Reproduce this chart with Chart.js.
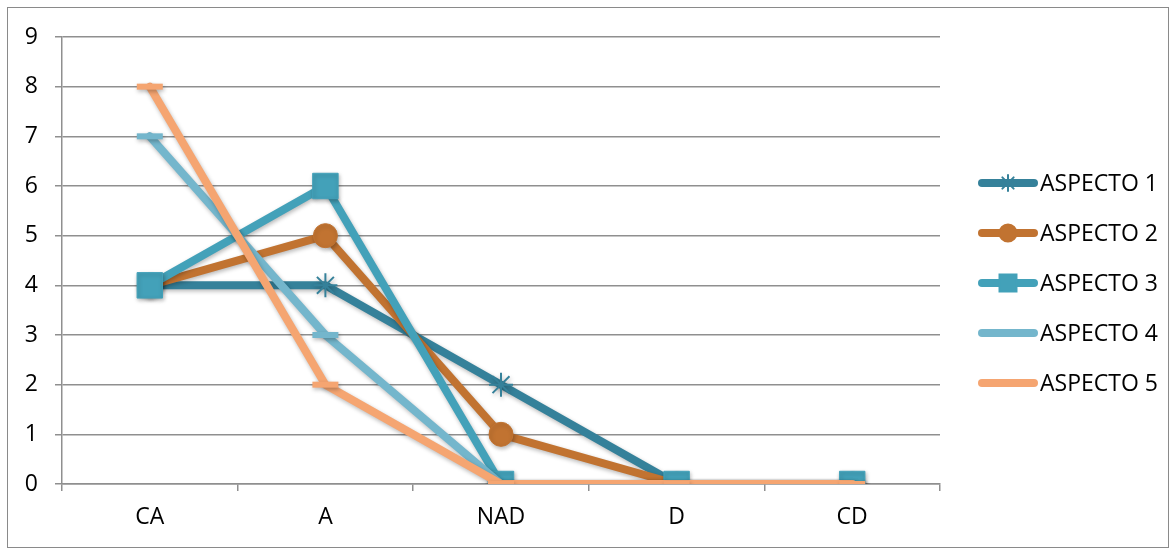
<!DOCTYPE html>
<html>
<head>
<meta charset="utf-8">
<script src="https://cdn.jsdelivr.net/npm/chart.js@4.4.0/dist/chart.umd.min.js"></script>
<style>
  html, body { margin: 0; padding: 0; background: #fff; }
  #wrap { width: 1175px; height: 550px; }
</style>
</head>
<body>
<div id="wrap"><canvas id="myChart" width="1175" height="550"></canvas></div>
<script>
// categories on the x axis
const categories = ['CA', 'A', 'NAD', 'D', 'CD'];
const seriesNames = ['ASPECTO 1', 'ASPECTO 2', 'ASPECTO 3', 'ASPECTO 4', 'ASPECTO 5'];

// values
const aspecto1 = [4, 4, 2, 0, 0];
const aspecto2 = [4, 5, 1, 0, 0];
const aspecto3 = [4, 6, 0, 0, 0];
const aspecto4 = [7, 3, 0, 0, 0];
const aspecto5 = [8, 2, 0, 0, 0];

const yMin = 0;
const yMax = 9;
const yStep = 1;

const gridColor = '#8f8f8f';
const labelFont = { family: 'Open Sans', size: 23 };

function lineSet(label, data, color, style, radius, width, order) {
  return {
    label: label,
    data: data,
    borderColor: color,
    backgroundColor: color,
    borderWidth: 8,
    borderCapStyle: 'round',
    borderJoinStyle: 'round',
    pointStyle: style,
    pointRadius: radius,
    pointHoverRadius: radius,
    pointBorderWidth: width,
    pointBorderColor: color,
    pointBackgroundColor: color,
    tension: 0,
    order: order
  };
}

// outer frame round the whole chart
const frame = {
  id: 'frame',
  beforeDraw(chart) {
    const ctx = chart.ctx;
    ctx.save();
    ctx.strokeStyle = '#8a8a8a';
    ctx.lineWidth = 1;
    ctx.strokeRect(7.5, 7.5, 1161, 540);
    ctx.restore();
  }
};

// soft shadow like the office chart
const shadow = {
  id: 'shadow',
  beforeDatasetDraw(chart) {
    const ctx = chart.ctx;
    ctx.save();
    ctx.shadowColor = 'rgba(0,0,0,0.28)';
    ctx.shadowBlur = 4;
    ctx.shadowOffsetX = 1;
    ctx.shadowOffsetY = 2;
  },
  afterDatasetDraw(chart) {
    chart.ctx.restore();
  }
};

// legend on the right: line sample with its marker, then the name
const sideLegend = {
  id: 'sideLegend',
  afterDraw(chart) {
    const ctx = chart.ctx;
    const x0 = chart.chartArea.right + 38;
    const legendMarkers = [8, 8.5, 12, 0, 0];
    ctx.save();
    chart.data.datasets.forEach((ds, i) => {
      const y = 183 + i * 50;
      ctx.strokeStyle = ds.borderColor;
      ctx.lineWidth = 8;
      ctx.lineCap = 'round';
      ctx.beginPath();
      ctx.moveTo(x0 + 4, y);
      ctx.lineTo(x0 + 56, y);
      ctx.stroke();
      if (legendMarkers[i] > 0) {
        ctx.fillStyle = ds.borderColor;
        ctx.strokeStyle = ds.borderColor;
        ctx.lineWidth = 2;
        Chart.helpers.drawPoint(ctx, {
          pointStyle: ds.pointStyle,
          radius: legendMarkers[i],
          borderWidth: 2,
          rotation: 0
        }, x0 + 30, y);
      }
      ctx.fillStyle = '#000';
      ctx.font = '23px "Open Sans"';
      ctx.textAlign = 'left';
      ctx.textBaseline = 'middle';
      ctx.fillText(ds.label, x0 + 62, y + 1);
    });
    ctx.restore();
  }
};

const ctx = document.getElementById('myChart');
const chart = new Chart(ctx, {
  type: 'line',
  data: {
    labels: categories,
    datasets: [
      lineSet(seriesNames[0], aspecto1, '#35819a', 'star', 12, 2, 5),
      lineSet(seriesNames[1], aspecto2, '#c17331', 'circle', 12, 1, 4),
      lineSet(seriesNames[2], aspecto3, '#43a1b9', 'rect', 18, 1, 3),
      lineSet(seriesNames[3], aspecto4, '#74b6cc', 'line', 13, 6, 2),
      lineSet(seriesNames[4], aspecto5, '#f5a571', 'line', 13, 6, 1)
    ]
  },
  plugins: [frame, shadow, sideLegend],
  options: {
    responsive: false,
    animation: false,
    devicePixelRatio: 1,
    layout: { padding: { top: 37, right: 235, bottom: 0, left: 0 } },
    plugins: {
      legend: { display: false },
      tooltip: { enabled: false }
    },
    scales: {
      x: {
        offset: true,
        afterFit: function(scale) { scale.height = 66; },
        grid: {
          offset: true,
          drawOnChartArea: false,
          drawTicks: true,
          tickLength: 7,
          color: gridColor,
          lineWidth: 1.5
        },
        border: { display: true, color: gridColor, width: 1.5 },
        ticks: { color: '#000', font: labelFont, padding: 13, maxRotation: 0 }
      },
      y: {
        min: yMin,
        max: yMax,
        afterFit: function(scale) { scale.width = 62; },
        grid: {
          drawTicks: true,
          tickLength: 7,
          color: gridColor,
          lineWidth: 1.5
        },
        border: { display: true, color: gridColor, width: 1.5 },
        ticks: { stepSize: yStep, color: '#000', font: labelFont, padding: 17 }
      }
    }
  }
});
</script>
</body>
</html>
